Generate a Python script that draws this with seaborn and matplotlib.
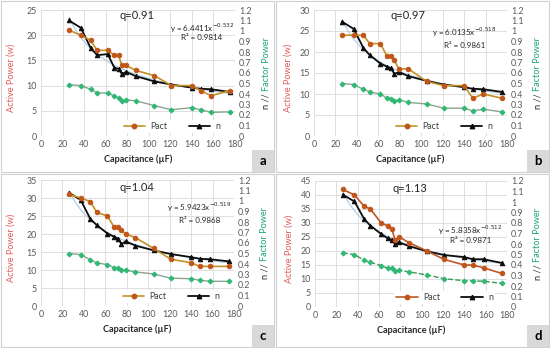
import numpy as np
import pandas as pd
import matplotlib
matplotlib.use("Agg")
import matplotlib.pyplot as plt
from matplotlib.lines import Line2D
from matplotlib.patches import Rectangle
import seaborn as sns

# ---------------- data ----------------
capacitance = [26, 37, 46, 52, 62, 68, 72, 75, 79, 88, 105, 121, 140, 148, 158, 175]

pact_a = [21, 20, 19, 17, 17, 16, 16, 14, 14, 13, 12, 10, 10, 9, 8, 9]
n_a = [1.10, 1.03, 0.84, 0.77, 0.78, 0.65, 0.64, 0.59, 0.61, 0.57, 0.52, 0.49, 0.46, 0.45, 0.445, 0.42]
fp_a = [0.49, 0.48, 0.445, 0.41, 0.41, 0.38, 0.365, 0.335, 0.345, 0.335, 0.29, 0.25, 0.27, 0.25, 0.225, 0.23]

pact_b = [24, 24, 24, 22, 22, 19, 19, 18, 16, 16, 13, 12, 12, 9, 10, 9]
n_b = [1.09, 1.02, 0.84, 0.77, 0.69, 0.66, 0.645, 0.59, 0.61, 0.57, 0.525, 0.49, 0.465, 0.45, 0.445, 0.42]
fp_b = [0.50, 0.49, 0.445, 0.42, 0.40, 0.36, 0.35, 0.335, 0.345, 0.32, 0.305, 0.265, 0.265, 0.24, 0.255, 0.23]

pact_c = [31, 30, 29, 26, 25, 22, 22, 21, 20, 19, 16, 13, 12, 11, 11, 11]
n_c = [1.08, 1.01, 0.83, 0.77, 0.69, 0.66, 0.64, 0.59, 0.615, 0.575, 0.53, 0.495, 0.465, 0.45, 0.445, 0.425]
fp_c = [0.50, 0.49, 0.44, 0.41, 0.395, 0.365, 0.36, 0.34, 0.34, 0.325, 0.305, 0.265, 0.26, 0.245, 0.235, 0.235]

pact_d = [42, 40, 36, 35, 30, 29, 28, 24, 25, 23, 20, 17, 15, 15, 14, 12]
n_d = [1.07, 1.005, 0.84, 0.775, 0.695, 0.655, 0.64, 0.60, 0.615, 0.58, 0.53, 0.495, 0.475, 0.455, 0.455, 0.42]
fp_d = [0.515, 0.50, 0.445, 0.425, 0.395, 0.37, 0.37, 0.34, 0.35, 0.335, 0.305, 0.27, 0.25, 0.25, 0.245, 0.225]

q_labels = ["q=0.91", "q=0.97", "q=1.04", "q=1.13"]
eq_labels = ["y = 6.4411x$^{-0.532}$", "y = 6.0135x$^{-0.518}$",
             "y = 5.9423x$^{-0.519}$", "y = 5.8358x$^{-0.512}$"]
r2_labels = ["R\u00b2 = 0.9814", "R\u00b2 = 0.9861", "R\u00b2 = 0.9868", "R\u00b2 = 0.9871"]
panel_letters = ["a", "b", "c", "d"]
left_max = [25, 30, 35, 45]

pacts = [pact_a, pact_b, pact_c, pact_d]
ns = [n_a, n_b, n_c, n_d]
fps = [fp_a, fp_b, fp_c, fp_d]

# ---------------- style ----------------
sns.set_style("white")
plt.rcParams['font.family'] = ['Lato', 'DejaVu Sans']

W, H = 550, 348
fig = plt.figure(figsize=(W / 100, H / 100), dpi=100)

# axes rectangles in pixels (left, top, right, bottom)
ax_px = [(41, 10, 235, 136), (314, 10, 507, 136), (41, 180, 234, 306), (315, 181, 507, 307)]
panel_px = [(1, 1, 274, 172), (276, 1, 549, 172), (1, 174, 274, 347), (276, 174, 549, 347)]

eq_pos = [(0.83, 0.857, 0.778), (0.78, 0.82, 0.72), (0.82, 0.785, 0.68), (0.81, 0.605, 0.526)]
title_pos = [(0.495, 0.955), (0.487, 0.955), (0.497, 0.94), (0.495, 0.94)]

tick_col = "#595959"
grid_col = "#d9d9d9"
black_line = "#0d0d0d"
marker_brown = "#c0561a"

for i in range(4):
    # panel border
    L, T, R, B = panel_px[i]
    fig.patches.append(Rectangle((L / W, 1 - B / H), (R - L) / W, (B - T) / H,
                                 transform=fig.transFigure, fill=False,
                                 edgecolor="#d0d0d0", linewidth=0.8, zorder=0))
    # corner letter box
    fig.patches.append(Rectangle(((R - 22) / W, 1 - B / H), 22 / W, 22 / H,
                                 transform=fig.transFigure, facecolor="#d9d9d9",
                                 edgecolor="none", zorder=1))
    fig.text((R - 11) / W, 1 - (B - 11) / H, panel_letters[i], ha="center", va="center",
             fontsize=9.5, fontweight="bold", color="black")

    l, t, r, b = ax_px[i]
    ax = fig.add_axes([l / W, 1 - b / H, (r - l) / W, (b - t) / H])
    ax2 = ax.twinx()
    ax.set_zorder(ax2.get_zorder() + 1)
    ax.patch.set_visible(False)

    df = pd.DataFrame({"cap": capacitance, "pact": pacts[i], "n": ns[i], "fp": fps[i]})

    pact_line_col = "#c0562a" if i == 3 else "#c49224"
    fp_style = "--" if i == 3 else "-"
    fp_line_col = "#3a9a5a" if i == 3 else "#8aa58f"

    # trendline (power fit of n) -- light blue
    coef = np.polyfit(np.log(df["cap"]), np.log(df["n"]), 1)
    xs = np.linspace(min(capacitance), max(capacitance), 100)
    trend = pd.DataFrame({"x": xs, "y": np.exp(coef[1]) * xs ** coef[0]})
    sns.lineplot(data=trend, x="x", y="y", ax=ax2, color="#a9cbe8", linewidth=0.8)

    sns.lineplot(data=df, x="cap", y="fp", ax=ax2, color=fp_line_col, linewidth=1.0,
                 linestyle=fp_style, marker="D", markersize=2.5,
                 markerfacecolor="#2eb872", markeredgecolor="#2eb872")
    sns.lineplot(data=df, x="cap", y="n", ax=ax2, color=black_line, linewidth=1.3,
                 marker="^", markersize=3.2,
                 markerfacecolor=black_line, markeredgecolor=black_line)
    sns.lineplot(data=df, x="cap", y="pact", ax=ax, color=pact_line_col, linewidth=1.2,
                 marker="o", markersize=3.2,
                 markerfacecolor=marker_brown, markeredgecolor=marker_brown)

    ax.set_xlim(0, 180)
    ax.set_ylim(0, left_max[i])
    ax2.set_ylim(0, 1.2)
    ax.set_xticks(np.arange(0, 181, 20))
    ax.set_yticks(np.arange(0, left_max[i] + 1, 5))
    ax2.set_yticks(np.round(np.arange(0, 1.21, 0.1), 1))
    ax2.set_yticklabels([("%g" % v) for v in np.round(np.arange(0, 1.21, 0.1), 1)])

    for a in (ax, ax2):
        for s in a.spines.values():
            s.set_visible(False)
        a.tick_params(length=0, labelsize=6.4, colors=tick_col, pad=3)
        a.set_ylabel("")
    ax2.grid(False)
    ax.grid(False)
    for xv in np.arange(0, 181, 20):
        ax2.axvline(xv, color=grid_col, linewidth=0.6, zorder=0)
    for yv in np.arange(0, left_max[i] + 1, 5):
        ax2.axhline(yv / left_max[i] * 1.2, color=grid_col, linewidth=0.6, zorder=0)

    ax.set_xlabel("Capacitance (\u00b5F)", fontsize=6.6, fontweight="bold", color="#262626", labelpad=4)

    ax.text(title_pos[i][0], title_pos[i][1], q_labels[i], transform=ax.transAxes,
            ha="center", va="center", fontsize=8, color="#262626")
    ax.text(eq_pos[i][0], eq_pos[i][1], eq_labels[i], transform=ax.transAxes,
            ha="center", va="center", fontsize=5.8, color="#262626")
    ax.text(eq_pos[i][0], eq_pos[i][2], r2_labels[i], transform=ax.transAxes,
            ha="center", va="center", fontsize=5.8, color="#262626")

    # y labels
    ax.text(-0.155 if i in (0, 2) else -0.135, 0.46, "Active Power (w)", transform=ax.transAxes,
            rotation=90, ha="center", va="center", fontsize=6.6, color="#e05a5a")
    ax.text(1.16, 0.28, "n //", transform=ax.transAxes, rotation=90,
            ha="center", va="center", fontsize=6.6, color="#262626")
    ax.text(1.16, 0.575, "Factor Power", transform=ax.transAxes, rotation=90,
            ha="center", va="center", fontsize=6.6, color="#1aa37a")

    handles = [Line2D([], [], color=pact_line_col, linewidth=1.2, marker="o", markersize=3.2,
                      markerfacecolor=marker_brown, markeredgecolor=marker_brown),
               Line2D([], [], color=black_line, linewidth=1.3, marker="^", markersize=3.2,
                      markerfacecolor=black_line, markeredgecolor=black_line)]
    leg = ax.legend(handles, ["Pact", "n"], loc="center", bbox_to_anchor=(0.675, 0.075),
                    ncol=2, fontsize=6.4, frameon=True, framealpha=1, facecolor="white",
                    edgecolor="none", handlelength=2.4, columnspacing=2.4, handletextpad=0.6,
                    borderpad=0.2)
    for txt in leg.get_texts():
        txt.set_color("#404040")

fig.savefig("out.png", dpi=100)
